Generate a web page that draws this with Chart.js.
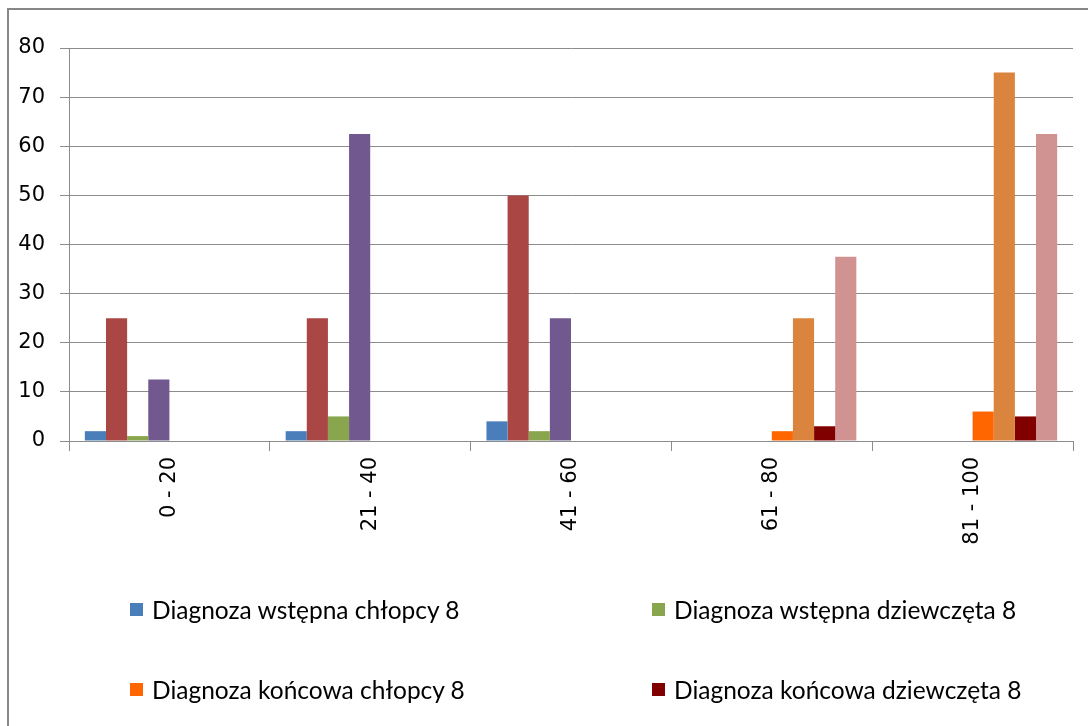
<!DOCTYPE html>
<html>
<head>
<meta charset="utf-8">
<script src="https://cdn.jsdelivr.net/npm/chart.js@4/dist/chart.umd.min.js"></script>
<style>
  body { margin: 0; background: #fff; }
  #frame { position: absolute; left: 7px; top: 8px; width: 1100px; height: 730px;
           border-left: 2px solid #878787; border-top: 2px solid #878787; }
  #wrap { position: absolute; left: 0; top: 0; width: 1088px; height: 560px; }
  #legend { position: absolute; left: 0; top: 0; width: 1088px; height: 726px; pointer-events: none; }
  .item { position: absolute; display: flex; align-items: center; height: 30px;
          font-family: Lato, "Liberation Sans", sans-serif; font-size: 24.5px; color: #000; }
  .box { width: 13px; height: 13px; margin-right: 9px; }
</style>
</head>
<body>
<div id="frame"></div>
<div id="wrap"><canvas id="chart" width="1088" height="560"></canvas></div>
<div id="legend"></div>
<script>
// Przedziały wyników (%)
var categories = ["0 - 20", "21 - 40", "41 - 60", "61 - 80", "81 - 100"];

// Liczba uczniów i odsetek (%) w przedziałach
var wstepnaChlopcy       = [2, 2, 4, 0, 0];
var wstepnaChlopcyProc   = [25, 25, 50, 0, 0];
var wstepnaDziewczeta    = [1, 5, 2, 0, 0];
var wstepnaDziewczetaProc = [12.5, 62.5, 25, 0, 0];
var koncowaChlopcy       = [0, 0, 0, 2, 6];
var koncowaChlopcyProc   = [0, 0, 0, 25, 75];
var koncowaDziewczeta    = [0, 0, 0, 3, 5];
var koncowaDziewczetaProc = [0, 0, 0, 37.5, 62.5];

var yTicks = [0, 10, 20, 30, 40, 50, 60, 70, 80];

var series = [
  { label: "Diagnoza wstępna chłopcy 8", data: wstepnaChlopcy, color: "#4A7EBB", legend: true },
  { label: "Diagnoza wstępna chłopcy 8 %", data: wstepnaChlopcyProc, color: "#AA4643", legend: false },
  { label: "Diagnoza wstępna dziewczęta 8", data: wstepnaDziewczeta, color: "#89A54E", legend: true },
  { label: "Diagnoza wstępna dziewczęta 8 %", data: wstepnaDziewczetaProc, color: "#71588F", legend: false },
  { label: "Diagnoza końcowa chłopcy 8", data: koncowaChlopcy, color: "#FF6600", legend: true },
  { label: "Diagnoza końcowa chłopcy 8 %", data: koncowaChlopcyProc, color: "#DB843D", legend: false },
  { label: "Diagnoza końcowa dziewczęta 8", data: koncowaDziewczeta, color: "#800000", legend: true },
  { label: "Diagnoza końcowa dziewczęta 8 %", data: koncowaDziewczetaProc, color: "#D19292", legend: false }
];

var axisFont = { family: "'DejaVu Sans', Verdana, sans-serif", size: 21 };
var gridColor = "#8c8c8c";

var ctx = document.getElementById("chart").getContext("2d");
var chart = new Chart(ctx, {
  type: 'bar',
  data: {
    labels: categories,
    datasets: series.map(function(s) {
      return {
        label: s.label,
        data: s.data,
        backgroundColor: s.color,
        borderWidth: 0,
        categoryPercentage: 8 / 9.5,
        barPercentage: 1
      };
    })
  },
  options: {
    responsive: false,
    animation: false,
    layout: { padding: { top: 48, right: 15, left: 0, bottom: 0 } },
    plugins: {
      legend: { display: false },
      tooltip: { enabled: false }
    },
    scales: {
      x: {
        grid: { display: true, drawOnChartArea: false, drawTicks: true, tickLength: 10, color: gridColor },
        border: { color: gridColor },
        ticks: { color: "#000", font: axisFont, minRotation: 90, maxRotation: 90, padding: 6 },
        afterFit: function(s) { s.height = 119; }
      },
      y: {
        min: 0,
        max: 80,
        afterBuildTicks: function(s) { s.ticks = yTicks.map(function(v) { return { value: v }; }); },
        grid: { color: gridColor, tickLength: 9 },
        border: { color: gridColor },
        ticks: { color: "#000", font: axisFont, padding: 15 },
        afterFit: function(s) { s.width = 69; }
      }
    }
  }
});

// legenda: tylko cztery serie liczbowe, w dwóch kolumnach
var legendEl = document.getElementById("legend");
var cols = [130, 652];
var rows = [594, 674];
series.filter(function(s) { return s.legend; }).forEach(function(s, i) {
  var it = document.createElement("div");
  it.className = "item";
  it.style.left = cols[i % 2] + "px";
  it.style.top = rows[Math.floor(i / 2)] + "px";
  it.innerHTML = '<span class="box" style="background:' + s.color + '"></span><span></span>';
  it.lastChild.textContent = s.label;
  legendEl.appendChild(it);
});
</script>
</body>
</html>
